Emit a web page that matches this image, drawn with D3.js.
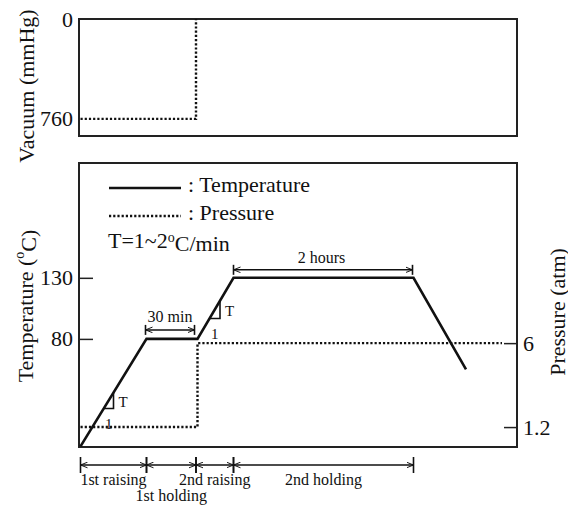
<!DOCTYPE html>
<html>
<head>
<meta charset="utf-8">
<script src="https://cdn.jsdelivr.net/npm/d3@7"></script>
<style>
  body { margin: 0; background: #fff; }
  svg { display: block; }
  svg text { font-family: "Liberation Serif", "Times New Roman", serif; fill: #111; }
  .axis path.domain { display: none; }
  .axis line { stroke: #222; stroke-width: 1.5; }
  .axis text { font-size: 22px; font-family: "Liberation Serif", serif; }
</style>
</head>
<body>
<div id="chart"></div>
<script>
/***** data *****/
// temperature profile (time in min, deg C)
var tempTime = [1, 45, 79, 103, 223, 258];
var tempValue = [-8, 80, 80, 130, 130, 55];
// pressure profile (atm)
var presTime = [1, 79, 79, 282];
var presValue = [1.2, 1.2, 6, 6];
// vacuum profile (mmHg)
var vacTime = [1, 78, 78];
var vacValue = [760, 760, 0];
// process phases
var phaseBounds = [1, 45, 78, 103, 223];
var phaseNames = ["1st raising", "1st holding", "2nd raising", "2nd holding"];
// ticks
var tempTicks = [80, 130];
var presTicks = [1.2, 6];
var vacTicks = [0, 760];
// slope triangles (time spans on the raising segments)
var slopeMarks = [[16.5, 23], [87, 94]];

/***** chart parameters *****/
var width = 568;
var height = 505;
var frameLeft = 79, frameRight = 517;
var vacTop = 19, vacBottom = 136;
var mainTop = 163, mainBottom = 447;
var dots = "2.2,2";

var svg = d3.select("#chart")
  .append("svg")
  .attr("width", width)
  .attr("height", height)
  .attr("font-family", "Liberation Serif, serif");

// arrow head marker
var defs = svg.append("defs");
defs.append("marker")
  .attr("id", "chev")
  .attr("viewBox", "0 0 10 10")
  .attr("refX", 10)
  .attr("refY", 5)
  .attr("markerUnits", "userSpaceOnUse")
  .attr("markerWidth", 7)
  .attr("markerHeight", 7)
  .attr("orient", "auto-start-reverse")
  .append("path")
  .attr("d", "M0,1 L10,5 L0,9")
  .attr("fill", "none")
  .attr("stroke", "#111")
  .attr("stroke-width", 1.4);

/***** scales *****/
var x = d3.scaleLinear().domain([0, 292]).range([frameLeft, frameRight]);
var yVac = d3.scaleLinear().domain([0, 890]).range([vacTop, vacBottom]);
var yTemp = d3.scaleLinear().domain([-8.5, 224]).range([mainBottom, mainTop]);
var yPres = d3.scaleLinear().domain([0.06, 16.3]).range([mainBottom, mainTop]);
// temperature at any time (piecewise linear)
var tempAt = d3.scaleLinear().domain(tempTime).range(tempValue);

var lineGen = function (ys) {
  return d3.line()
    .x(function (d) { return x(d[0]); })
    .y(function (d) { return ys(d[1]); });
};

/***** frames *****/
svg.append("rect")
  .attr("x", frameLeft).attr("y", vacTop)
  .attr("width", frameRight - frameLeft).attr("height", vacBottom - vacTop)
  .attr("fill", "none").attr("stroke", "#222").attr("stroke-width", 2);
svg.append("rect")
  .attr("x", frameLeft).attr("y", mainTop)
  .attr("width", frameRight - frameLeft).attr("height", mainBottom - mainTop)
  .attr("fill", "none").attr("stroke", "#222").attr("stroke-width", 2);

/***** axes *****/
svg.append("g")
  .attr("class", "axis")
  .attr("transform", "translate(" + frameLeft + ",0)")
  .call(d3.axisLeft(yVac).tickValues(vacTicks).tickSize(0).tickPadding(6));

svg.append("g")
  .attr("class", "axis")
  .attr("transform", "translate(" + frameLeft + ",0)")
  .call(d3.axisLeft(yTemp).tickValues(tempTicks).tickSizeInner(-14).tickSizeOuter(0).tickPadding(6));

svg.append("g")
  .attr("class", "axis")
  .attr("transform", "translate(" + frameRight + ",0)")
  .call(d3.axisRight(yPres).tickValues(presTicks).tickFormat(function (d) { return d; })
    .tickSizeInner(-13).tickSizeOuter(0).tickPadding(6));

// axis titles
var titles = [
  {text: "Vacuum (mmHg)", x: 26, y: 86, sup: false},
  {text: "Temperature (", x: 25, y: 306, sup: true},
  {text: "Pressure (atm)", x: 557, y: 312, sup: false}
];
titles.forEach(function (t) {
  var tx = svg.append("text")
    .attr("transform", "translate(" + t.x + "," + t.y + ") rotate(-90)")
    .attr("text-anchor", "middle")
    .attr("dominant-baseline", "central")
    .style("font-size", "22px");
  tx.append("tspan").text(t.text);
  if (t.sup) {
    tx.append("tspan").attr("dy", "-0.4em").style("font-size", "14px").text("o");
    tx.append("tspan").attr("dy", "0.4em").text("C)");
  }
});

/***** profiles *****/
svg.append("path")
  .datum(d3.zip(vacTime, vacValue))
  .attr("d", lineGen(yVac))
  .attr("fill", "none").attr("stroke", "#111")
  .attr("stroke-width", 2.4).attr("stroke-dasharray", dots);

svg.append("path")
  .datum(d3.zip(presTime, presValue))
  .attr("d", lineGen(yPres))
  .attr("fill", "none").attr("stroke", "#111")
  .attr("stroke-width", 2.4).attr("stroke-dasharray", dots);

svg.append("path")
  .datum(d3.zip(tempTime, tempValue))
  .attr("d", lineGen(yTemp))
  .attr("fill", "none").attr("stroke", "#111")
  .attr("stroke-width", 2.6).attr("stroke-linejoin", "miter");

/***** slope triangles *****/
slopeMarks.forEach(function (s) {
  var x0 = x(s[0]), x1 = x(s[1]);
  var y0 = yTemp(tempAt(s[0])), y1 = yTemp(tempAt(s[1]));
  svg.append("path")
    .attr("d", "M" + x0 + "," + y0 + "H" + x1 + "V" + y1)
    .attr("fill", "none").attr("stroke", "#111").attr("stroke-width", 1.6);
  svg.append("text")
    .attr("x", x1 + 5).attr("y", (y0 + y1) / 2 + 6)
    .style("font-size", "15px").text("T");
  svg.append("text")
    .attr("x", (x0 + x1) / 2).attr("y", y0 + 20)
    .attr("text-anchor", "middle")
    .style("font-size", "15px").text("1");
});

/***** dimension arrows *****/
var dimArrow = function (xa, xb, y, bar) {
  svg.append("line")
    .attr("x1", xa).attr("x2", xb).attr("y1", y).attr("y2", y)
    .attr("stroke", "#111").attr("stroke-width", 1.5)
    .attr("marker-start", "url(#chev)").attr("marker-end", "url(#chev)");
  [xa, xb].forEach(function (xx) {
    svg.append("line")
      .attr("x1", xx).attr("x2", xx).attr("y1", y - bar).attr("y2", y + bar)
      .attr("stroke", "#111").attr("stroke-width", 1.6);
  });
};

// 30 min
var holdY = yTemp(tempValue[1]) - 9;
dimArrow(x(tempTime[1]) - 1, x(tempTime[2]) - 3, holdY, 5);
svg.append("text")
  .attr("x", (x(tempTime[1]) + x(tempTime[2])) / 2 - 2).attr("y", holdY - 8)
  .attr("text-anchor", "middle").style("font-size", "16px")
  .text("30 min");

// 2 hours
var hourY = yTemp(tempValue[3]) - 8;
dimArrow(x(tempTime[3]), x(tempTime[4]) - 1, hourY, 5);
svg.append("text")
  .attr("x", (x(tempTime[3]) + x(tempTime[4])) / 2 - 2).attr("y", hourY - 7)
  .attr("text-anchor", "middle").style("font-size", "16px")
  .text("2 hours");

// phases along the bottom
var phaseY = 465;
phaseNames.forEach(function (name, i) {
  var xa = x(phaseBounds[i]), xb = x(phaseBounds[i + 1]);
  dimArrow(xa, xb, phaseY, 8);
  svg.append("text")
    .attr("x", (xa + xb) / 2).attr("y", i === 1 ? 501 : 485)
    .attr("text-anchor", "middle").style("font-size", "16px")
    .text(name);
});

/***** legend *****/
svg.append("line")
  .attr("x1", 109).attr("x2", 181).attr("y1", 188).attr("y2", 188)
  .attr("stroke", "#111").attr("stroke-width", 2.4);
svg.append("line")
  .attr("x1", 109).attr("x2", 181).attr("y1", 216).attr("y2", 216)
  .attr("stroke", "#111").attr("stroke-width", 2.4).attr("stroke-dasharray", dots);
svg.append("text").attr("x", 188).attr("y", 192)
  .style("font-size", "22px").text(": Temperature");
svg.append("text").attr("x", 188).attr("y", 220)
  .style("font-size", "22px").text(": Pressure");
var rate = svg.append("text").attr("x", 108).attr("y", 248)
  .style("font-size", "22px");
rate.append("tspan").text("T=1~2");
rate.append("tspan").attr("dy", "-0.4em").style("font-size", "14px").text("o");
rate.append("tspan").attr("dy", "0.4em").text("C/min");
</script>
</body>
</html>
